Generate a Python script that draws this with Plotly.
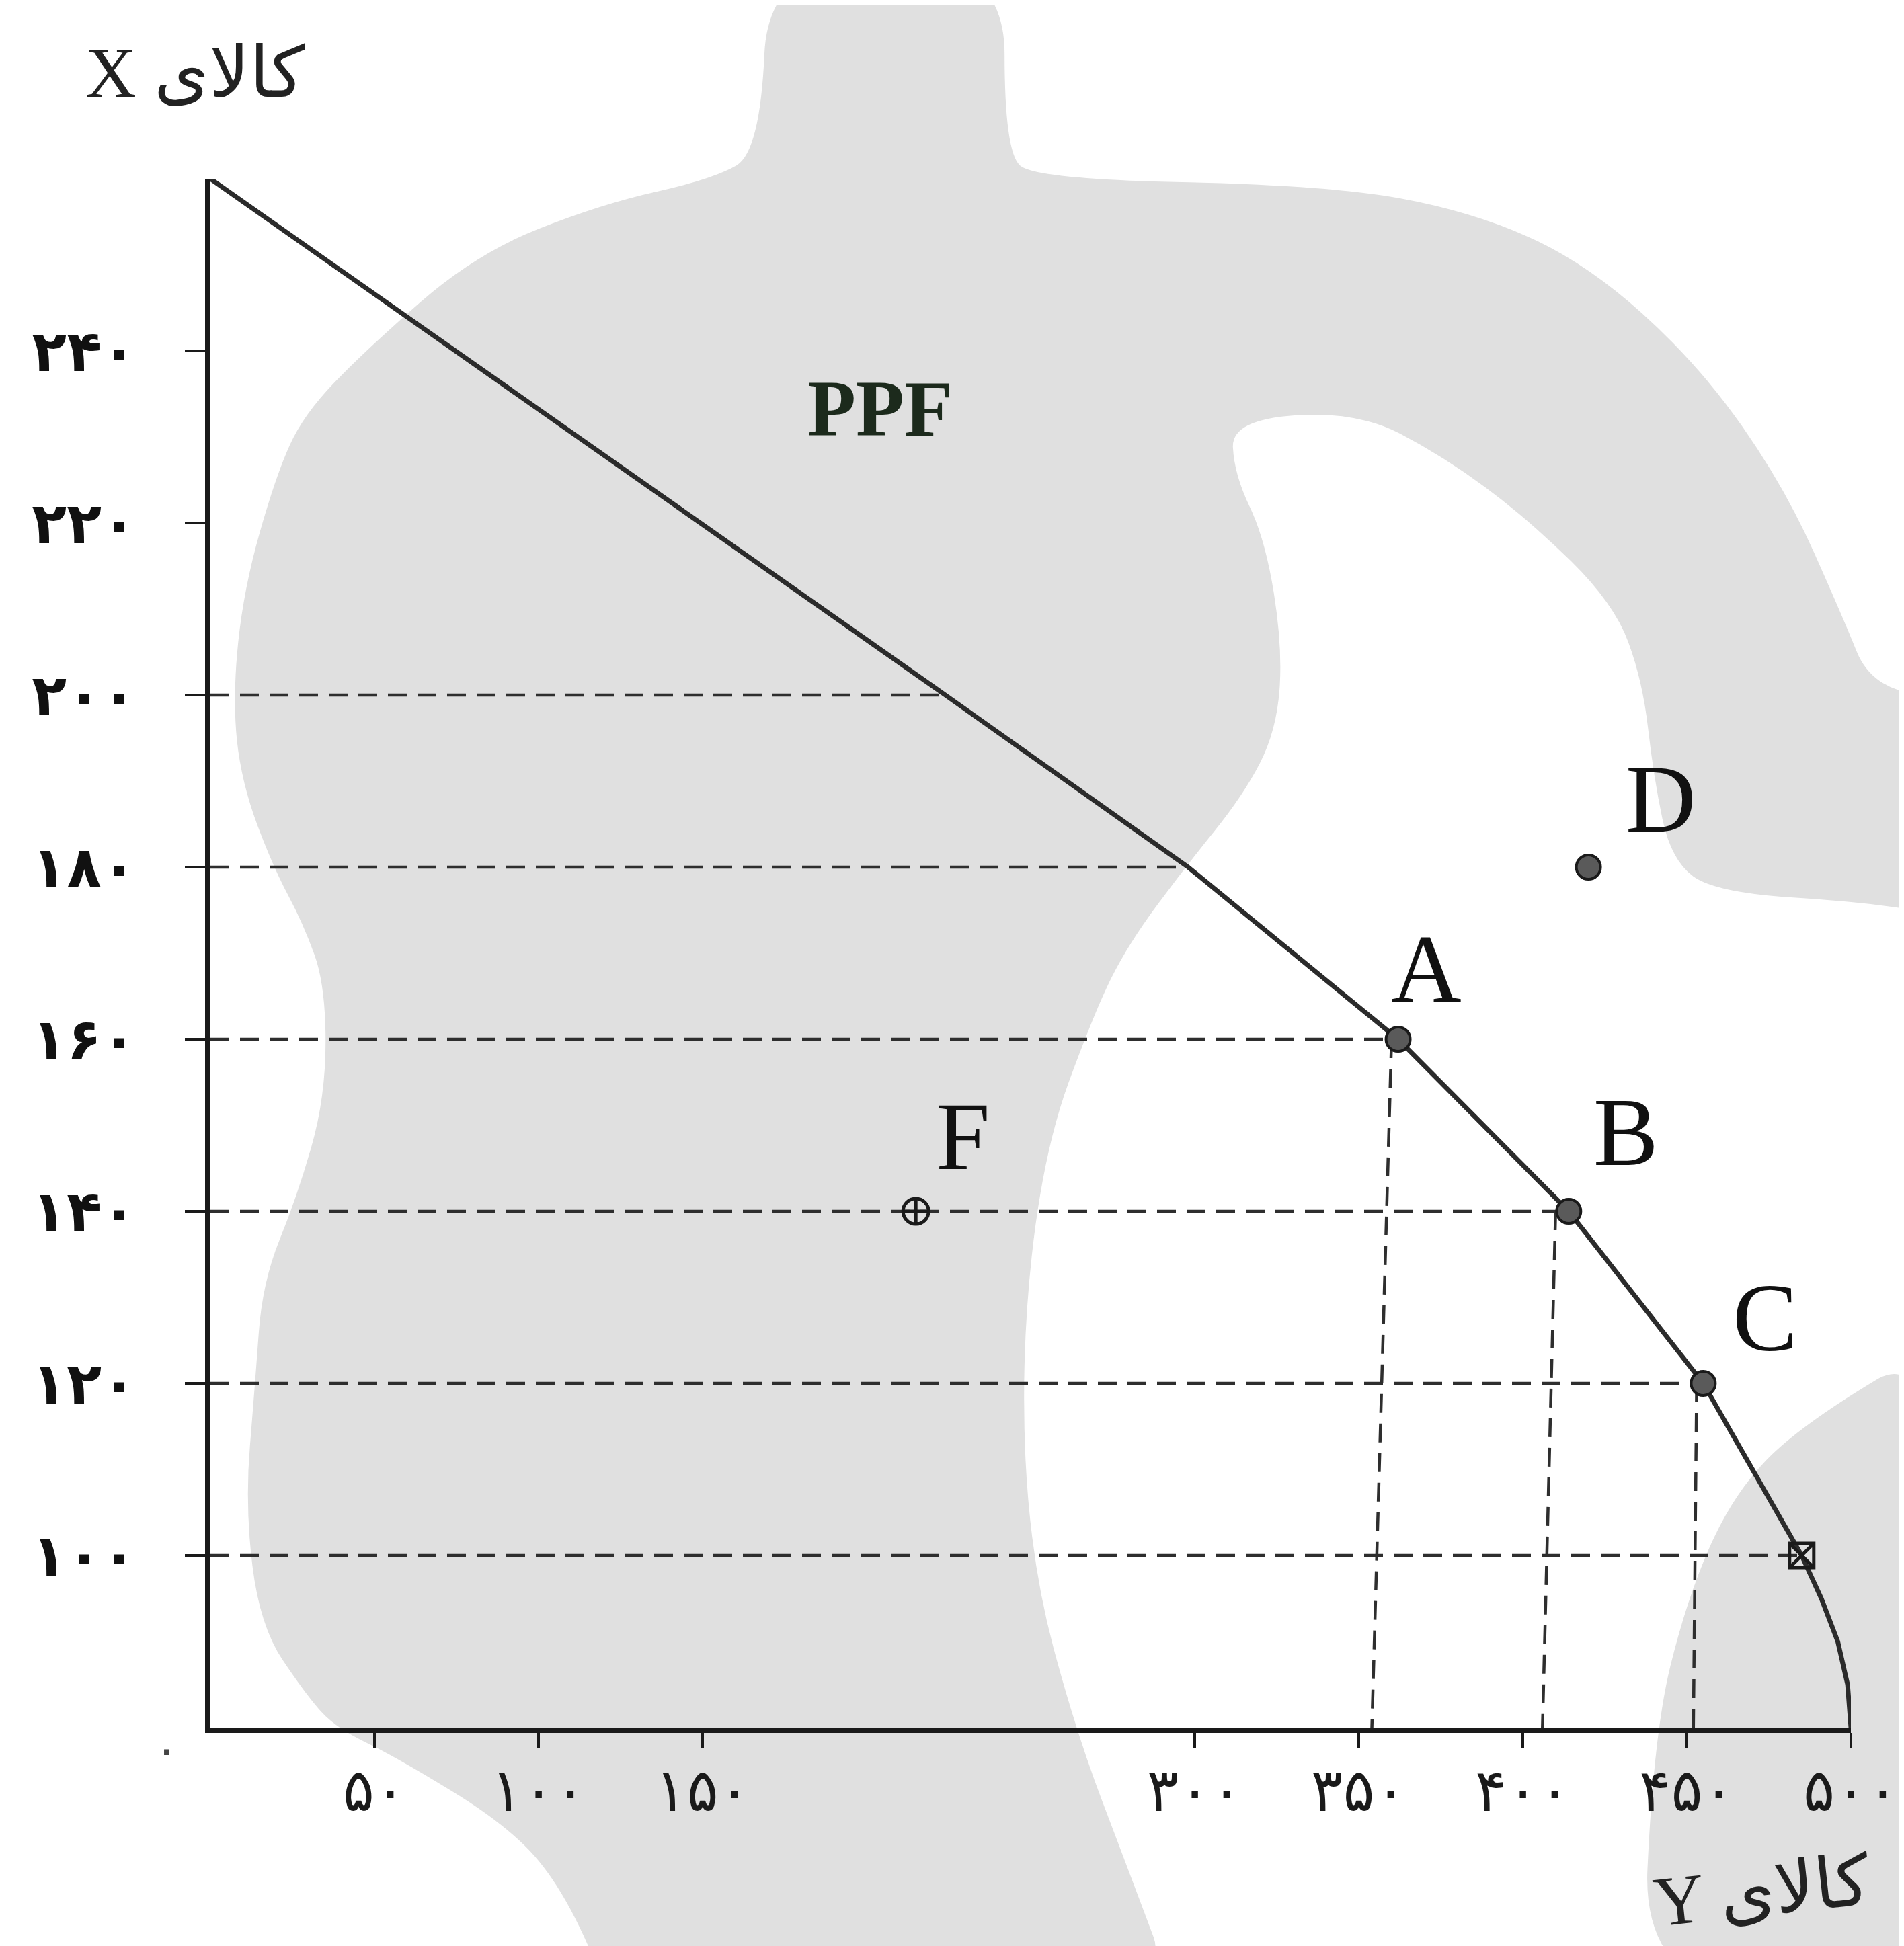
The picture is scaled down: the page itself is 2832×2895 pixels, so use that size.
import plotly.graph_objects as go

# --- data ---
# production possibilities frontier: good Y (horizontal) and good X (vertical)
ppf_y = [0, 224, 298, 362, 414, 455, 485, 491, 496, 499, 500]
ppf_x = [260, 200, 180, 160, 140, 120, 100, 75, 50, 25, 0]

# horizontal dashed guides: level of X and the Y where each meets the frontier
guide_x_levels = [200, 180, 160, 140, 120, 100]
guide_y_ends = [224, 298, 362, 414, 455, 485]

# labelled points on the frontier; drop lines run from just under each point to the Y axis
point_names = ["A", "B", "C"]
point_y = [362, 414, 455]
point_x = [160, 140, 120]
drop_top_y = [360, 410, 453]
drop_bottom_y = [354, 406, 452]
point_100 = (485, 100)
point_d = (420, 180)
point_f = (215, 140)

x_ticks = [50, 100, 150, 300, 350, 400, 450, 500]
y_ticks = [100, 120, 140, 160, 180, 200, 220, 240]

W, H = 2832, 2895
ML, MR, MT, MB = 305, 87, 258, 333
PW, PH = W - ML - MR, H - MT - MB
GREY = "#e0e0e0"
INK = "#1a1a1a"

FA = str.maketrans("0123456789", "۰۱۲۳۴۵۶۷۸۹")


def fa(n):
    return str(n).translate(FA)


def to_v(x):
    # broken vertical axis: 0-100 squeezed into the space of 20 units
    return x * 0.2 if x < 100 else x - 80


# watermark outline, traced in picture pixels (1534 x 1568 scale)
S = 2832 / 1534
wm_main = [(615, -40), (805, -40), (805, 118), (830, 140), (1066, 145), (1181, 166), (1273, 207),
           (1365, 290), (1434, 389), (1480, 492), (1503, 549), (1570, 560), (1570, 735),
           (1503, 723), (1378, 715), (1342, 689), (1328, 622), (1319, 544), (1296, 482),
           (1227, 414), (1158, 363), (1089, 327), (988, 334), (990, 378), (1015, 430),
           (1029, 518), (1024, 585), (997, 637), (951, 694), (905, 756), (877, 812),
           (836, 925), (818, 1090), (826, 1255), (863, 1393), (905, 1503), (945, 1610),
           (490, 1610), (449, 1517), (404, 1466), (314, 1411), (266, 1388), (242, 1361),
           (205, 1306), (193, 1209), (201, 1112), (207, 1029), (235, 960), (258, 880),
           (258, 790), (240, 740), (216, 695), (190, 626), (183, 557), (192, 470),
           (218, 379), (240, 330), (290, 278), (379, 200), (480, 160), (570, 140),
           (608, 118)]
wm_right = [(1570, 1070), (1445, 1145), (1392, 1200), (1355, 1283), (1328, 1393),
            (1318, 1610), (1570, 1610)]


def wm_path(pts):
    # closed outline smoothed with quadratic curves through the edge midpoints
    p = [((px * S - ML) / PW, (MT + PH - py * S) / PH) for px, py in pts]
    n = len(p)
    mid = [((p[i][0] + p[(i + 1) % n][0]) / 2, (p[i][1] + p[(i + 1) % n][1]) / 2) for i in range(n)]
    d = f"M{mid[-1][0]:.4f},{mid[-1][1]:.4f}"
    for i in range(n):
        d += f" Q{p[i][0]:.4f},{p[i][1]:.4f} {mid[i][0]:.4f},{mid[i][1]:.4f}"
    return d + " Z"


fig = go.Figure()

# dashed guides
gx, gy = [], []
for lvl, end in zip(guide_x_levels, guide_y_ends):
    gx += [0, end, None]
    gy += [to_v(lvl), to_v(lvl), None]
for top, bot, px_ in zip(drop_top_y, drop_bottom_y, point_x):
    gx += [top, bot, None]
    gy += [to_v(px_), 0, None]
fig.add_trace(go.Scatter(x=gx, y=gy, mode="lines",
                         line=dict(color="#2e2e2e", width=4.5, dash="28px,16px"),
                         hoverinfo="skip", showlegend=False))

# frontier
fig.add_trace(go.Scatter(x=ppf_y, y=[to_v(v) for v in ppf_x], mode="lines",
                         line=dict(color="#2b2b2b", width=7),
                         showlegend=False))

# points
fig.add_trace(go.Scatter(x=point_y + [point_d[0]], y=[to_v(v) for v in point_x] + [to_v(point_d[1])],
                         mode="markers", cliponaxis=False,
                         marker=dict(size=36, color="#5a5a5a", line=dict(color=INK, width=4)),
                         showlegend=False))
fig.add_trace(go.Scatter(x=[point_100[0]], y=[to_v(point_100[1])], mode="markers", cliponaxis=False,
                         marker=dict(size=36, symbol="square-x-open", color=INK, line=dict(width=5)),
                         showlegend=False))
fig.add_trace(go.Scatter(x=[point_f[0]], y=[to_v(point_f[1])], mode="markers", cliponaxis=False,
                         marker=dict(size=38, symbol="circle-cross-open", color=INK, line=dict(width=5)),
                         showlegend=False))

letter_font = dict(family="Liberation Serif", size=145, color="#111111")
labels = list(zip(point_names, point_y, point_x)) + [("D", *point_d), ("F", *point_f)]
shifts = {"A": (42, 105), "B": (85, 118), "C": (92, 98), "D": (108, 102), "F": (70, 112)}
for name, yv, xv in labels:
    dx, dy = shifts[name]
    fig.add_annotation(x=yv, y=to_v(xv), text=name, showarrow=False, font=letter_font,
                       xshift=dx, yshift=dy)

# free text placed by picture pixel (full size), converted to paper below
title_font = dict(family="Liberation Serif, DejaVu Sans", size=105, color="#222222")
free_text = [
    ("<b>PPF</b>", 1301, 600, dict(family="Liberation Serif", size=118, color="#1c2a1c"), 0),
    ("X کالای", 282, 100, title_font, 0),
    ("Y کالای", 2612, 2805, title_font, -6),
    (fa(0), 240, 2594, dict(family="DejaVu Sans", size=70, color="#444444"), 0),
]
for txt, px, py, fnt, ang in free_text:
    fig.add_annotation(x=(px - ML) / PW, y=(MT + PH - py) / PH, xref="paper", yref="paper",
                       xanchor="center", yanchor="middle", text=txt, showarrow=False,
                       font=fnt, textangle=ang)

fig.update_layout(
    width=W, height=H,
    margin=dict(l=ML, r=MR, t=MT, b=MB),
    paper_bgcolor="white", plot_bgcolor="rgba(0,0,0,0)",
    shapes=[dict(type="path", path=wm_path(wm_main), xref="paper", yref="paper",
                 fillcolor=GREY, line=dict(width=0), layer="below"),
            dict(type="path", path=wm_path(wm_right), xref="paper", yref="paper",
                 fillcolor=GREY, line=dict(width=0), layer="below")],
    xaxis=dict(range=[0, 500], tickvals=x_ticks, ticktext=[fa(v) for v in x_ticks],
               showgrid=False, zeroline=False, showline=True, linecolor=INK, linewidth=8,
               ticks="outside", ticklen=22, tickwidth=4, tickcolor=INK,
               ticklabelstandoff=-12,
               tickfont=dict(family="DejaVu Sans", size=88, color="#1a1a1a")),
    yaxis=dict(range=[0, 180], tickvals=[to_v(v) for v in y_ticks], ticktext=[fa(v) for v in y_ticks],
               showgrid=False, zeroline=False, showline=True, linecolor=INK, linewidth=8,
               ticks="outside", ticklen=30, tickwidth=4, tickcolor=INK,
               ticklabelstandoff=55,
               tickfont=dict(family="DejaVu Sans", size=85, color="#111111", weight="bold")),
)

fig.write_html("out.html")
